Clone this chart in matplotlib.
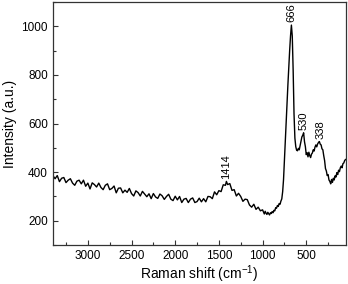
import matplotlib
matplotlib.use("Agg")
import matplotlib.pyplot as plt
from matplotlib.ticker import MultipleLocator

plt.rcParams['font.family'] = ['Liberation Sans', 'DejaVu Sans']
plt.rcParams['mathtext.fontset'] = 'custom'
plt.rcParams['mathtext.rm'] = 'Liberation Sans'
plt.rcParams['mathtext.it'] = 'Liberation Sans'

# Raman spectrum
shift_a = [3400, 3375, 3350, 3325, 3300, 3275, 3250, 3225, 3200, 3175, 3150, 3125, 3100, 3075,
           3050, 3025, 3000, 2975, 2950, 2925, 2900, 2875, 2850, 2825, 2800, 2775, 2750, 2725,
           2700, 2675, 2650, 2625, 2600, 2575, 2550, 2525, 2500, 2475, 2450, 2425, 2400, 2375,
           2350, 2325, 2300, 2275, 2250, 2225, 2200, 2175, 2150, 2125, 2100, 2075, 2050, 2025,
           2000, 1975, 1950, 1925, 1900, 1875, 1850, 1825, 1800, 1775, 1750, 1725, 1700, 1675,
           1650, 1625, 1600, 1575, 1550, 1525, 1500, 1475, 1450, 1425, 1414, 1400, 1375, 1350,
           1325, 1300, 1275, 1250, 1225, 1200, 1175, 1150, 1125, 1100, 1075, 1050, 1025, 1000]
int_a = [386, 373, 386, 361, 375, 378, 357, 367, 373, 355, 346, 363, 367, 352,
         367, 342, 355, 331, 356, 349, 339, 355, 337, 328, 346, 352, 328, 333,
         343, 315, 334, 335, 315, 326, 317, 333, 312, 302, 323, 316, 302, 321,
         310, 299, 311, 291, 312, 298, 292, 310, 303, 288, 300, 309, 289, 283,
         301, 286, 300, 275, 289, 292, 275, 289, 294, 275, 279, 293, 278, 291,
         278, 300, 299, 291, 319, 307, 324, 320, 348, 346, 362, 349, 353, 325,
         328, 302, 313, 300, 280, 289, 287, 265, 256, 268, 247, 256, 241, 245]

shift_b = [990, 980, 970, 960, 950, 940, 930, 920, 910, 900, 890, 880, 870, 860, 850, 840,
           830, 820, 810, 800, 790, 780, 770, 760, 750, 740, 730, 720, 710, 700, 690, 680,
           670, 660, 650, 640, 630, 620, 610, 600, 590, 580, 570, 560, 550, 540, 530, 520,
           510, 500, 490, 480, 470, 460, 450, 440, 430, 420, 410, 400, 390, 380, 370, 360,
           350, 340, 330, 320, 310, 300, 290, 280, 270, 260, 250, 240, 230, 220, 210, 200,
           190, 180, 170, 160, 150, 140, 130, 120, 110, 100, 90, 80, 70, 60, 50]
int_b = [236, 228, 239, 231, 226, 235, 229, 224, 233, 230, 238, 233, 243, 241, 254, 252,
         263, 259, 271, 268, 281, 290, 320, 370, 450, 520, 600, 680, 760, 830, 900, 960,
         1005, 960, 820, 640, 540, 505, 490, 488, 498, 492, 510, 530, 545, 552, 562, 525,
         505, 472, 480, 463, 482, 468, 460, 474, 479, 492, 487, 503, 512, 504, 516, 522,
         526, 515, 512, 496, 492, 468, 448, 415, 405, 386, 390, 368, 362, 352, 370, 358,
         375, 368, 385, 380, 398, 390, 408, 402, 418, 425, 418, 435, 438, 448, 452]

peak_pos = [1414, 666, 530, 338]
peak_int = [362, 1005, 562, 526]
peak_labels = ["1414", "666", "530", "338"]

shift = shift_a + shift_b
intensity = int_a + int_b

fig = plt.figure(figsize=(3.48, 2.84), dpi=100)
ax = fig.add_axes([0.152, 0.137, 0.841, 0.856])
ax.plot(shift, intensity, color='black', linewidth=1.0)

for p, h, lab in zip(peak_pos, peak_int, peak_labels):
    ax.annotate(lab, xy=(p, h), xytext=(0, 2), textcoords='offset points',
                rotation=90, ha='center', va='bottom', fontsize=8)

ax.set_xlim(3400, 50)
ax.set_ylim(100, 1100)
ax.xaxis.set_major_locator(MultipleLocator(500))
ax.xaxis.set_minor_locator(MultipleLocator(250))
ax.yaxis.set_major_locator(MultipleLocator(200))
ax.yaxis.set_minor_locator(MultipleLocator(100))
ax.tick_params(which='both', direction='in', labelsize=8.5, width=0.8, color='#333333')
ax.tick_params(which='major', length=3.5)
ax.tick_params(which='minor', length=2)
for s in ax.spines.values():
    s.set_color('#333333')
    s.set_linewidth(0.9)

ax.set_xlabel('Raman shift (cm$^{-1}$)', fontsize=10, labelpad=1)
ax.set_ylabel('Intensity (a.u.)', fontsize=10, labelpad=3)

fig.savefig('out.png', dpi=100)
